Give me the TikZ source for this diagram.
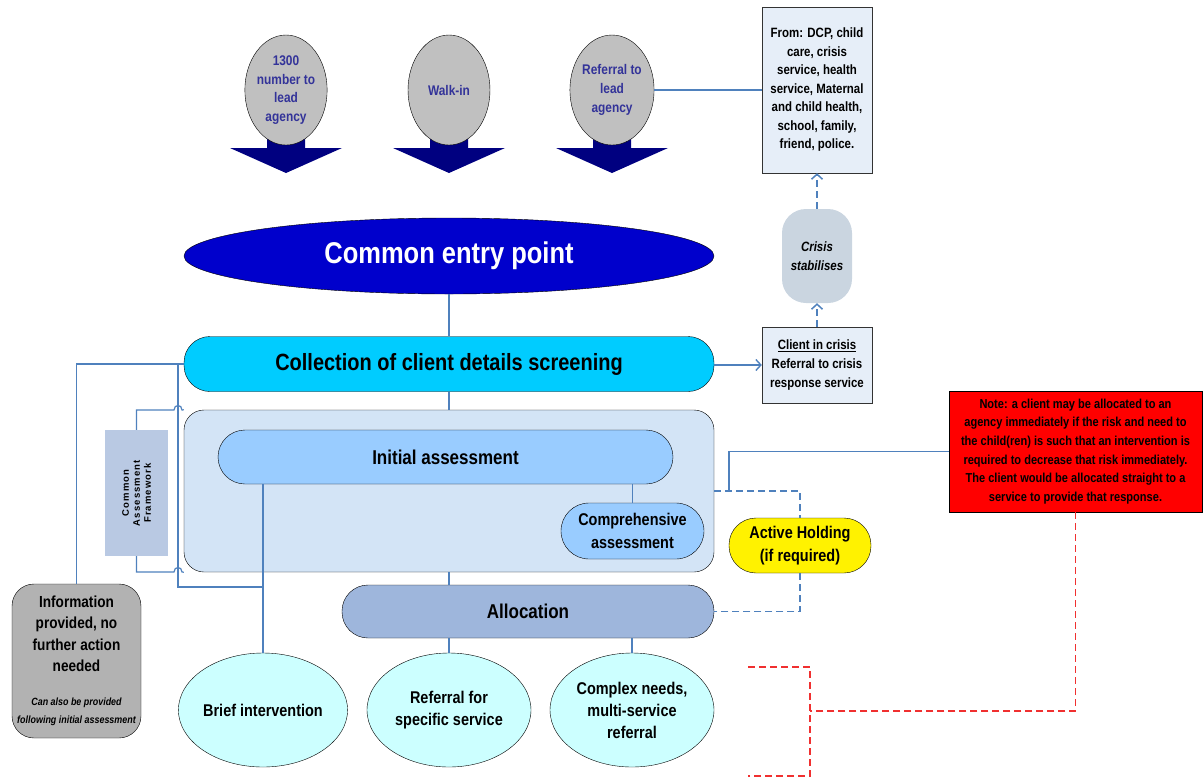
\documentclass[tikz,border=0pt]{standalone}
\usepackage{fontspec}
\setmainfont{Liberation Sans}[FakeStretch=0.85]
\newfontfamily\caffont{Liberation Sans}[LetterSpace=12]
\usetikzlibrary{shapes.geometric,arrows.meta,calc}
\definecolor{linkblue}{HTML}{4F81BD}
\definecolor{ovalgray}{HTML}{C0C0C0}
\definecolor{ovaltext}{HTML}{333399}
\definecolor{navyarrow}{HTML}{000080}
\definecolor{entryblue}{HTML}{0000CC}
\definecolor{collcyan}{HTML}{00CCFF}
\definecolor{contblue}{HTML}{D3E4F6}
\definecolor{initblue}{HTML}{99CCFF}
\definecolor{allocblue}{HTML}{9EB6DC}
\definecolor{cafblue}{HTML}{B9C9E3}
\definecolor{paleblue}{HTML}{E6EEF8}
\definecolor{crisisfill}{HTML}{CAD5E0}
\definecolor{outcome}{HTML}{CCFFFF}
\definecolor{infogray}{HTML}{B2B2B2}
\definecolor{notered}{HTML}{FF0000}
\definecolor{reddash}{HTML}{F03030}
\newcommand{\smallnote}{\itshape\fontsize{10.5}{20}\selectfont}
\tikzset{
  every node/.style={font=\bfseries, align=center, inner sep=0pt},
  source/.style={ellipse, draw=black, fill=ovalgray, minimum width=82pt, minimum height=110pt,
    text=ovaltext, font=\bfseries\fontsize{14}{18.7}\selectfont},
  blockarrow/.style={fill=navyarrow},
  infobox/.style={rectangle, draw=black!80, fill=paleblue, font=\bfseries\fontsize{13.5}{18.5}\selectfont},
  pill/.style={rectangle, draw=black, rounded corners=#1},
  outcomeoval/.style={ellipse, draw=black, fill=outcome, minimum width=164pt, minimum height=114pt,
    font=\bfseries\fontsize{17}{22}\selectfont},
  link/.style={draw=linkblue, line width=1.4pt},
  thinlink/.style={draw=linkblue, line width=1.2pt},
  dashlink/.style={draw=linkblue, line width=1.5pt, dash pattern=on 7pt off 4pt},
  reddashed/.style={draw=reddash, line width=1.6pt, dash pattern=on 7pt off 4pt},
  barb/.style={-{Straight Barb[length=5pt,width=11pt]}}
}
\begin{document}
\begin{tikzpicture}[x=1pt,y=-1pt]
\useasboundingbox (0,0) rectangle (1203,777);

% block arrows below the three entry routes
\foreach \cx in {286,449,612}{
  \fill[blockarrow] (\cx-19,138) -- (\cx+19,138) -- (\cx+19,148) -- (\cx+56,148)
    -- (\cx,173) -- (\cx-56,148) -- (\cx-19,148) -- cycle;
}
% entry routes
\node[source] (o1) at (286,90) {1300\\number to\\lead\\agency};
\node[source] (o2) at (449,90) {Walk-in};
\node[source] (o3) at (612,90) {Referral to\\lead\\agency};

% referral sources and crisis path
\node[infobox, minimum width=110pt, minimum height=166pt] (from) at (817,90)
  {From: DCP, child\\care, crisis\\service, health\\service, Maternal\\and child health,\\school, family,\\friend, police.};
\node[pill=24pt, fill=crisisfill, draw=none, minimum width=70pt, minimum height=94pt,
  font=\bfseries\itshape\fontsize{13.5}{19}\selectfont] (crisis) at (817,256) {Crisis\\stabilises};
\node[infobox, minimum width=110pt, minimum height=76pt, font=\bfseries\fontsize{13.5}{19}\selectfont] (client) at (817,365)
  {\underline{Client in crisis}\\Referral to crisis\\response service};

% main flow
\node[ellipse, draw=black, fill=entryblue, minimum width=530pt, minimum height=76pt,
  text=white, font=\bfseries\fontsize{30}{34}\selectfont] (cep) at (449,256) {Common entry point};
\node[pill=26pt, fill=collcyan, minimum width=530pt, minimum height=55pt,
  font=\bfseries\fontsize{23.5}{26}\selectfont] (coll) at (449,364) {Collection of client details screening};
\node[pill=20pt, fill=contblue, minimum width=530pt, minimum height=162pt] (cont) at (449,491) {};
\node[pill=27pt, fill=initblue, minimum width=455pt, minimum height=54pt,
  font=\bfseries\fontsize{20}{24}\selectfont] (init) at (445.5,457) {Initial assessment};
\node[pill=28pt, fill=initblue, minimum width=143pt, minimum height=56pt,
  font=\bfseries\fontsize{17}{23}\selectfont] (comp) at (632.5,531) {Comprehensive\\assessment};
\node[rectangle, fill=cafblue, minimum width=63pt, minimum height=126pt] (caf) at (136.5,493) {};
\node[rotate=90, font=\caffont\bfseries\fontsize{9.5}{11}\selectfont] at (caf.center) {Common\\Assessment\\Framework};
\node[pill=26pt, fill=allocblue, minimum width=372pt, minimum height=53pt,
  font=\bfseries\fontsize{20}{24}\selectfont] (alloc) at (528,611.5) {Allocation};
\node[pill=22pt, fill=infogray, minimum width=129pt, minimum height=154pt,
  font=\bfseries\fontsize{16}{21.5}\selectfont] (info) at (76.5,661)
  {Information\\provided, no\\further action\\needed\\[12pt]
   \smallnote Can also be provided\\[-3pt] \smallnote following initial assessment};
\node[outcomeoval] (brief) at (263,710) {Brief intervention};
\node[outcomeoval] (refer) at (449,710) {Referral for\\specific service};
\node[outcomeoval] (complex) at (632,710) {Complex needs,\\multi-service\\referral};
\node[pill=27pt, fill=yellow, minimum width=142pt, minimum height=55pt,
  font=\bfseries\fontsize{17}{23}\selectfont] (hold) at (800,545.5) {Active Holding\\(if required)};
\node[rectangle, draw=black, fill=notered, minimum width=253pt, minimum height=121pt,
  font=\bfseries\fontsize{13}{18.6}\selectfont] (note) at (1075.5,451.5)
  {Note: a client may be allocated to an\\agency immediately if the risk and need to\\the child(ren) is such that an intervention is\\required to decrease that risk immediately.\\The client would be allocated straight to a\\service to provide that response.};

% connectors
\draw[link] (o3.east) -- (from.west);
\draw[dashlink, barb] (crisis.north) -- (from.south);
\draw[dashlink, barb] (client.north) -- (crisis.south);
\draw[link] (cep.south) -- (coll.north);
\draw[link, barb] (client.west -| coll.east) -- (client.west);
\draw[link] (coll.south) -- (cont.north);
\draw[link] (cont.south) -- (cont.south |- alloc.north);
\draw[link] (comp.north |- init.south) -- (comp.north);
\draw[link] (refer.north |- alloc.south) -- (refer.north);
\draw[link] (complex.north |- alloc.south) -- (complex.north);
\draw[link] (brief.north |- init.south) -- (brief.north);
\draw[link] (coll.west) -| (info.north);
% branch from screening straight to brief intervention
\coordinate (bj) at (178,587);
\draw[thinlink] (coll.west -| bj) -- (bj) -- (bj -| brief.north);
% framework brackets, hopping over the branch line
\draw[thinlink] (caf.north) |- (174,410) .. controls (174,404) and (182,404) .. (182,410) -- (cont.north west);
\draw[thinlink] (caf.south) |- (174,572) .. controls (174,566) and (182,566) .. (182,572) -- (cont.south west);
% active holding loop
\draw[dashlink] (cont.east) -| (hold.north);
\draw[dashlink] (hold.south) |- (alloc.east);
\coordinate (nj) at (729,491);
\draw[thinlink] (nj) |- (note.west);
% note bracket
\coordinate (rb) at (810,711);
\draw[reddashed] (note.south) |- (rb);
\draw[reddashed] (748,667) -| (810,776) -- (748,776);
\end{tikzpicture}
\end{document}
